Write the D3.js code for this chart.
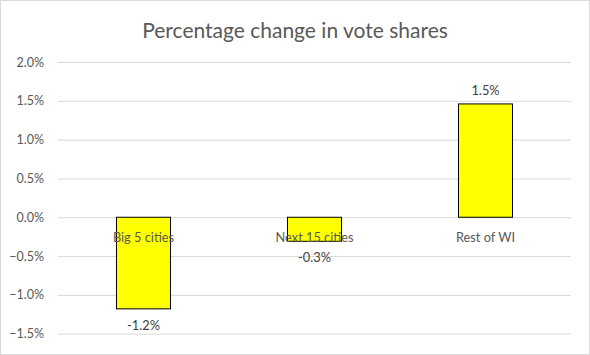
<!DOCTYPE html>
<html><head><meta charset="utf-8">
<script src="https://cdn.jsdelivr.net/npm/d3@7"></script>
<style>body{margin:0;background:#fff;} text{font-family:Lato,"Open Sans",sans-serif;}</style>
</head><body>
<svg id="c" width="590" height="355"></svg>
<script>
const categories = ["Big 5 cities", "Next 15 cities", "Rest of WI"];
const values = [-0.0118, -0.0031, 0.0146];
const valueLabels = ["-1.2%", "-0.3%", "1.5%"];
const tickValues = [-0.015, -0.01, -0.005, 0, 0.005, 0.01, 0.015, 0.02];
const title = "Percentage change in vote shares";

const svg = d3.select("#c");
svg.append("rect").attr("x",0.5).attr("y",0.5).attr("width",589).attr("height",354)
  .attr("fill","#fff").attr("stroke","#d9d9d9");

const y = d3.scaleLinear().domain([-0.015, 0.02]).range([333.7, 62]);
const x = d3.scaleBand().domain(categories).range([58, 571]).paddingInner(0.684).paddingOuter(0.342);

svg.append("text").attr("x",295).attr("y",37.5).attr("text-anchor","middle")
  .attr("font-size",21).attr("fill","#595959").text(title);

const yAxis = d3.axisLeft(y).tickValues(tickValues).tickFormat(d3.format(".1%")).tickSize(-(571-58)).tickPadding(14);
const g = svg.append("g").attr("transform","translate(58,0)").call(yAxis);
g.select(".domain").remove();
g.selectAll(".tick line").attr("stroke","#d9d9d9").attr("stroke-width",1);
g.selectAll(".tick text").attr("fill","#595959").attr("font-size",12.5).style("font-family","Lato,'Open Sans',sans-serif");

svg.selectAll("rect.bar").data(values).join("rect").attr("class","bar")
  .attr("x",(d,i)=>x(categories[i])).attr("width",x.bandwidth())
  .attr("y",d=>y(Math.max(0,d))).attr("height",d=>Math.abs(y(d)-y(0)))
  .attr("fill","#ffff00").attr("stroke","#000").attr("stroke-width",1);

svg.selectAll("text.cat").data(categories).join("text").attr("class","cat")
  .attr("x",d=>x(d)+x.bandwidth()/2).attr("y",y(0)+24.5).attr("text-anchor","middle")
  .attr("font-size",12.8).attr("fill","#595959").text(d=>d);

svg.selectAll("text.val").data(values).join("text").attr("class","val")
  .attr("x",(d,i)=>x(categories[i])+x.bandwidth()/2)
  .attr("y",d=>d<0 ? y(d)+21 : y(d)-9).attr("text-anchor","middle")
  .attr("font-size",12.8).attr("fill","#404040").text((d,i)=>valueLabels[i]);
</script>
</body></html>
